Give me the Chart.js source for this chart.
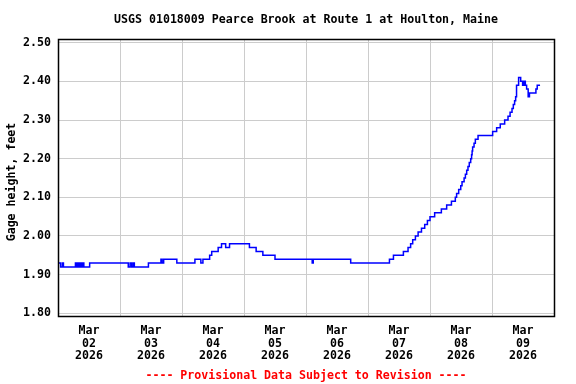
<!DOCTYPE html>
<html>
<head>
<meta charset="utf-8">
<title>USGS 01018009 Pearce Brook</title>
<script src="https://cdn.jsdelivr.net/npm/chart.js@4/dist/chart.umd.min.js"></script>
<style>
  body { margin: 0; background: #fff; }
  canvas { display: block; }
</style>
</head>
<body>
<canvas id="gageChart" width="576" height="384"></canvas>
<script>
// hours since Mar 02 2026 00:00, and gage height (ft) from that moment on
const hours = [0.2, 1.0, 1.7, 2.1, 6.75, 7.25, 7.6, 8.1, 8.65, 9.05, 9.55, 10.0, 12.25,
  27.2, 27.9, 28.5, 29.1, 29.55, 35.0, 39.85, 40.3, 40.9, 46.0, 53.0, 55.3, 56.1,
  58.7, 59.5, 62.0, 63.3, 64.9, 66.4, 74.1, 76.7, 79.3, 84.0, 98.4, 98.8, 113.3,
  128.3, 129.85, 133.7, 135.5, 136.5, 137.3, 138.35, 139.4, 140.7, 141.95, 143.0,
  144.0, 145.8, 148.4, 150.45, 152.3, 153.8, 154.3, 155.1, 155.9, 156.4, 157.2,
  157.7, 158.2, 158.7, 159.2, 159.75, 160.1, 160.3, 160.5, 161.05, 161.55, 162.6,
  168.25, 169.8, 171.2, 172.9, 174.2, 175.0, 175.75, 176.25, 176.75, 177.15, 177.5,
  178.3, 179.1, 179.85, 180.4, 180.9, 181.4, 182.0, 182.5, 185.0, 185.5, 186.6];
const heights = [1.93, 1.92, 1.93, 1.92, 1.93, 1.92, 1.93, 1.92, 1.93, 1.92, 1.93, 1.92, 1.93,
  1.92, 1.93, 1.92, 1.93, 1.92, 1.93, 1.94, 1.93, 1.94, 1.93, 1.94, 1.93, 1.94,
  1.95, 1.96, 1.97, 1.98, 1.97, 1.98, 1.97, 1.96, 1.95, 1.94, 1.93, 1.94, 1.93,
  1.94, 1.95, 1.96, 1.97, 1.98, 1.99, 2.00, 2.01, 2.02, 2.03, 2.04,
  2.05, 2.06, 2.07, 2.08, 2.09, 2.10, 2.11, 2.12, 2.13, 2.14, 2.15,
  2.16, 2.17, 2.18, 2.19, 2.20, 2.21, 2.22, 2.23, 2.24, 2.25, 2.26,
  2.27, 2.28, 2.29, 2.30, 2.31, 2.32, 2.33, 2.34, 2.35, 2.36, 2.39,
  2.41, 2.40, 2.39, 2.40, 2.39, 2.38, 2.36, 2.37, 2.38, 2.39, 2.39];

const dayLabels = ['02', '03', '04', '05', '06', '07', '08', '09'];
const yTicks = [1.80, 1.90, 2.00, 2.10, 2.20, 2.30, 2.40, 2.50];

const chartTitle = 'USGS 01018009 Pearce Brook at Route 1 at Houlton, Maine';
const yTitle = 'Gage height, feet';
const footer = '---- Provisional Data Subject to Revision ----';

const monoFont = 'bold 11.6px "DejaVu Sans Mono", monospace';

// Title, y-axis title, frame and footer
const decorations = {
  id: 'decorations',
  afterDraw(chart) {
    const { ctx, chartArea: a } = chart;
    ctx.save();
    ctx.strokeStyle = '#000';
    ctx.lineWidth = 1.5;
    ctx.strokeRect(Math.round(a.left) + 0.5, Math.round(a.top) + 0.5,
      Math.round(a.right - a.left), Math.round(a.bottom - a.top));

    ctx.font = monoFont;
    ctx.fillStyle = '#000';
    ctx.textAlign = 'center';
    ctx.textBaseline = 'middle';
    ctx.fillText(chartTitle, (a.left + a.right) / 2, 20);

    ctx.fillStyle = '#ff0000';
    ctx.fillText(footer, (a.left + a.right) / 2, 376);

    ctx.translate(12, 182);
    ctx.rotate(-Math.PI / 2);
    ctx.fillStyle = '#000';
    ctx.fillText(yTitle, 0, 0);
    ctx.restore();
  }
};

new Chart(document.getElementById('gageChart'), {
  type: 'line',
  data: {
    datasets: [{
      data: hours.map((h, i) => ({ x: h, y: heights[i] })),
      borderColor: '#0000ff',
      borderWidth: 1.5,
      stepped: true,
      pointRadius: 0,
      fill: false
    }]
  },
  options: {
    responsive: false,
    animation: false,
    layout: { padding: { top: 39, right: 22, bottom: 0, left: 0 } },
    plugins: {
      legend: { display: false },
      tooltip: { enabled: false }
    },
    scales: {
      x: {
        type: 'linear',
        min: 0,
        max: 192,
        afterBuildTicks: (scale) => {
          const t = [];
          for (let h = 0; h <= 192; h += 12) t.push({ value: h });
          scale.ticks = t;
        },
        afterFit: (scale) => { scale.height = 68; },
        grid: {
          drawTicks: false,
          lineWidth: 1,
          color: (ctx) => {
            const v = ctx.tick && ctx.tick.value;
            return (v % 24 === 0 && v > 0 && v < 192) ? '#cccccc' : 'rgba(0,0,0,0)';
          }
        },
        border: { display: false },
        ticks: {
          autoSkip: false,
          maxRotation: 0,
          padding: 8,
          color: '#000',
          font: { family: '"DejaVu Sans Mono", monospace', size: 11.6, weight: 'bold', lineHeight: 1.12 },
          callback: (v) => {
            if (v % 24 !== 12) return '';
            return ['Mar', dayLabels[Math.floor(v / 24)], '2026'];
          }
        }
      },
      y: {
        min: 1.793,
        max: 2.5096,
        afterBuildTicks: (scale) => {
          scale.ticks = yTicks.map(v => ({ value: v }));
        },
        afterFit: (scale) => { scale.width = 58; },
        grid: {
          drawTicks: false,
          lineWidth: 1,
          color: '#cccccc'
        },
        border: { display: false },
        ticks: {
          padding: 7,
          color: '#000',
          font: { family: '"DejaVu Sans Mono", monospace', size: 11.6, weight: 'bold' },
          callback: (v) => Number(v).toFixed(2)
        }
      }
    }
  },
  plugins: [decorations]
});
</script>
</body>
</html>
